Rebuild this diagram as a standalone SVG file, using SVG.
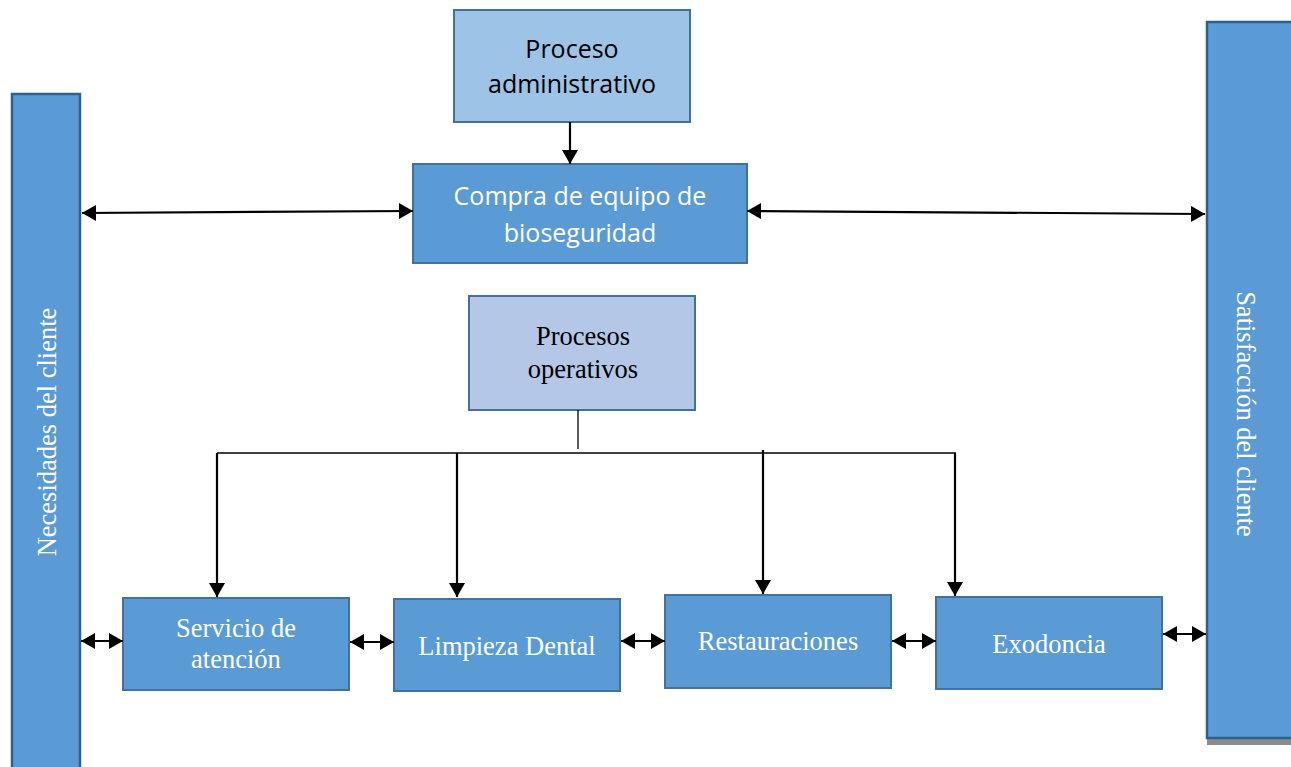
<svg xmlns="http://www.w3.org/2000/svg" width="1291" height="767" viewBox="0 0 1291 767">
  <defs>
    <style>
      .box { fill: #5b9bd5; stroke: #41719c; stroke-width: 2; }
      .bar { fill: #5b9bd5; stroke: #2e5f8e; stroke-width: 2.5; }
      .light { fill: #9dc3e6; stroke: #41719c; stroke-width: 2; }
      .pale { fill: #b4c7e7; stroke: #41719c; stroke-width: 2; }
      .sans { font-family: "Open Sans", "Noto Sans", sans-serif; font-size: 25px; text-anchor: middle; }
      .serif { font-family: "Liberation Serif", serif; font-size: 26.5px; text-anchor: middle; }
      .white { fill: #ffffff; }
      .black { fill: #000000; }
      .conn { stroke: #000; stroke-width: 2.2; fill: none; }
      .thin { stroke: #000; stroke-width: 1.3; fill: none; }
    </style>
    <!-- solid triangular arrowhead, sized in user units -->
    <marker id="ahd" viewBox="0 0 14 16" refX="14" refY="8" markerWidth="14" markerHeight="16" markerUnits="userSpaceOnUse" orient="auto-start-reverse">
      <path d="M0,0 L14,8 L0,16 z" fill="#000"/>
    </marker>
  </defs>

  <!-- left side bar -->
  <g id="necesidades">
    <rect class="bar" x="12" y="94" width="68" height="690"/>
    <text class="serif white" transform="translate(56,432) rotate(-90)">Necesidades del cliente</text>
  </g>

  <!-- right side bar -->
  <g id="satisfaccion">
    <rect x="1207" y="738" width="90" height="7" fill="#8c8c8c"/>
    <rect class="bar" x="1207" y="22" width="90" height="716"/>
    <text class="serif white" transform="translate(1237,414) rotate(90)">Satisfacción del cliente</text>
  </g>

  <g id="proceso-administrativo">
    <rect class="light" x="454" y="10" width="236" height="112"/>
    <text class="sans black" x="572" y="58">Proceso</text>
    <text class="sans black" x="572" y="93">administrativo</text>
  </g>

  <g id="compra">
    <rect class="box" x="413" y="164" width="334" height="99"/>
    <text class="sans white" x="580" y="205">Compra de equipo de</text>
    <text class="sans white" x="580" y="242">bioseguridad</text>
  </g>

  <g id="procesos-operativos">
    <rect class="pale" x="469" y="296" width="226" height="114"/>
    <text class="serif black" x="583" y="345">Procesos</text>
    <text class="serif black" x="583" y="378">operativos</text>
  </g>

  <g id="servicio">
    <rect class="box" x="123" y="598" width="226" height="92"/>
    <text class="serif white" x="236" y="637">Servicio de</text>
    <text class="serif white" x="236" y="668">atención</text>
  </g>

  <g id="limpieza">
    <rect class="box" x="394" y="599" width="226" height="92"/>
    <text class="serif white" x="507" y="655">Limpieza Dental</text>
  </g>

  <g id="restauraciones">
    <rect class="box" x="665" y="595" width="226" height="93"/>
    <text class="serif white" x="778" y="650">Restauraciones</text>
  </g>

  <g id="exodoncia">
    <rect class="box" x="936" y="597" width="226" height="92"/>
    <text class="serif white" x="1049" y="653">Exodoncia</text>
  </g>

  <g id="connectors">
    <!-- administrative to purchase -->
    <line class="conn" x1="570" y1="122" x2="570" y2="164" marker-end="url(#ahd)"/>
    <!-- purchase links to both side bars -->
    <line class="conn" x1="82" y1="213" x2="413" y2="211" marker-start="url(#ahd)" marker-end="url(#ahd)"/>
    <line class="conn" x1="747" y1="211" x2="1205" y2="214" marker-start="url(#ahd)" marker-end="url(#ahd)"/>
    <!-- operative processes branching -->
    <line class="thin" x1="578" y1="410" x2="578" y2="449"/>
    <line class="thin" x1="217" y1="453" x2="956" y2="453"/>
    <line class="conn" x1="217" y1="453" x2="217" y2="597" marker-end="url(#ahd)"/>
    <line class="conn" x1="457" y1="453" x2="457" y2="597" marker-end="url(#ahd)"/>
    <line class="conn" x1="763" y1="450" x2="763" y2="594" marker-end="url(#ahd)"/>
    <line class="conn" x1="955" y1="453" x2="955" y2="596" marker-end="url(#ahd)"/>
    <!-- chain of bottom processes -->
    <line class="conn" x1="81" y1="641" x2="123" y2="641" marker-start="url(#ahd)" marker-end="url(#ahd)"/>
    <line class="conn" x1="350" y1="642" x2="394" y2="642" marker-start="url(#ahd)" marker-end="url(#ahd)"/>
    <line class="conn" x1="621" y1="641" x2="665" y2="641" marker-start="url(#ahd)" marker-end="url(#ahd)"/>
    <line class="conn" x1="892" y1="641" x2="936" y2="641" marker-start="url(#ahd)" marker-end="url(#ahd)"/>
    <line class="conn" x1="1163" y1="634" x2="1206" y2="634" marker-start="url(#ahd)" marker-end="url(#ahd)"/>
  </g>
</svg>
